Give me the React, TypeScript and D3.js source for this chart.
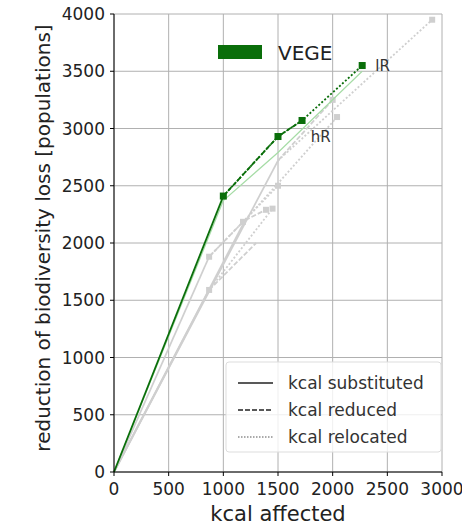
import React from 'react';
import * as d3 from 'd3';

// axis ticks
const xTicks = [0, 500, 1000, 1500, 2000, 2500, 3000];
const yTicks = [0, 500, 1000, 1500, 2000, 2500, 3000, 3500, 4000];

// VEGE diet (green)
const vegeSubstituted = [[0, 0], [1000, 2410]];
const vegeReduced = [[1000, 2410], [1500, 2930], [1720, 3070]];
const vegeRelocated = [[1000, 2410], [1500, 2930], [1720, 3070], [2270, 3550]];
const vegeLight = [[0, 0], [1000, 2370], [1500, 2790], [2270, 3500]];
const vegeMarkers = [[1000, 2410], [1500, 2930], [1720, 3070], [2270, 3550]];

// other diets (grey)
const greySubstituted = [
  [[0, 0], [1500, 2720]],
  [[0, 0], [1200, 2200]],
  [[0, 0], [870, 1880]],
  [[0, 0], [870, 1590]],
];
const greyReduced = [
  [[1500, 2720], [2000, 3250]],
  [[1200, 2200], [1390, 2290]],
  [[870, 1880], [1180, 2185]],
  [[870, 1590], [1300, 2000]],
];
const greyRelocated = [
  [[1500, 2720], [2910, 3950]],
  [[1200, 2200], [2040, 3100]],
  [[870, 1880], [1500, 2500]],
  [[870, 1590], [1450, 2300]],
];
const greyMarkers = [[2910, 3950], [2000, 3250], [2040, 3100], [1500, 2500], [1390, 2290], [1180, 2185], [870, 1880], [870, 1590], [1450, 2300]];

const labels = [
  { text: 'lR', x: 2390, y: 3500 },
  { text: 'hR', x: 1800, y: 2880 },
];

const legendItems = [
  { label: 'kcal substituted', dash: null },
  { label: 'kcal reduced', dash: '5,2' },
  { label: 'kcal relocated', dash: '1.5,1.5' },
];

const W = 462;
const H = 527;
const margin = { left: 114, right: 20, top: 14, bottom: 55 };

export default function App() {
  const x = d3.scaleLinear().domain([0, 3000]).range([margin.left, W - margin.right]);
  const y = d3.scaleLinear().domain([0, 4000]).range([H - margin.bottom, margin.top]);
  const line = d3.line<number[]>().x(d => x(d[0])).y(d => y(d[1]));
  const font = 'DejaVu Sans, sans-serif';
  const x0 = margin.left;
  const y0 = H - margin.bottom;
  const green = '#0a6e0a';
  const grey = '#cfcfcf';

  return (
    <svg width={W} height={H} style={{ position: 'absolute', left: 0, top: 0, background: '#fff' }} fontFamily={font}>
      {/* grid */}
      {xTicks.map(t => (
        <line key={'gx' + t} x1={x(t)} x2={x(t)} y1={y(0)} y2={y(4000)} stroke="#b0b0b0" strokeWidth={1} />
      ))}
      {yTicks.map(t => (
        <line key={'gy' + t} x1={x(0)} x2={x(3000)} y1={y(t)} y2={y(t)} stroke="#b0b0b0" strokeWidth={1} />
      ))}

      {/* grey diets */}
      {greySubstituted.map((d, i) => (
        <path key={'gs' + i} d={line(d) || ''} fill="none" stroke={grey} strokeWidth={1.8} />
      ))}
      {greyReduced.map((d, i) => (
        <path key={'gr' + i} d={line(d) || ''} fill="none" stroke={grey} strokeWidth={1.8} strokeDasharray="5,2" />
      ))}
      {greyRelocated.map((d, i) => (
        <path key={'gl' + i} d={line(d) || ''} fill="none" stroke={grey} strokeWidth={1.8} strokeDasharray="2,2" />
      ))}
      {greyMarkers.map((d, i) => (
        <rect key={'gm' + i} x={x(d[0]) - 3} y={y(d[1]) - 3} width={6} height={6} fill={grey} />
      ))}

      {/* VEGE */}
      <path d={line(vegeLight) || ''} fill="none" stroke="#a6dca6" strokeWidth={1.2} />
      <path d={line(vegeSubstituted) || ''} fill="none" stroke={green} strokeWidth={1.8} />
      <path d={line(vegeReduced) || ''} fill="none" stroke={green} strokeWidth={1.8} strokeDasharray="5,2" />
      <path d={line(vegeRelocated) || ''} fill="none" stroke={green} strokeWidth={1.8} strokeDasharray="2,2" />
      {vegeMarkers.map((d, i) => (
        <rect key={'vm' + i} x={x(d[0]) - 3.5} y={y(d[1]) - 3.5} width={7} height={7} fill={green} />
      ))}
      {labels.map(l => (
        <text key={l.text} x={x(l.x)} y={y(l.y)} fontSize={15} fill="#333">{l.text}</text>
      ))}

      {/* spines */}
      <line x1={x0} x2={x0} y1={y(4000)} y2={y0} stroke="#000" strokeWidth={1} />
      <line x1={x0} x2={x(3000)} y1={y0} y2={y0} stroke="#000" strokeWidth={1} />

      {/* ticks */}
      {xTicks.map(t => (
        <g key={'xt' + t}>
          <line x1={x(t)} x2={x(t)} y1={y0} y2={y0 + 4} stroke="#000" />
          <text x={x(t)} y={y0 + 23} fontSize={17} textAnchor="middle" fill="#222">{t}</text>
        </g>
      ))}
      {yTicks.map(t => (
        <g key={'yt' + t}>
          <line x1={x0 - 4} x2={x0} y1={y(t)} y2={y(t)} stroke="#000" />
          <text x={x0 - 9} y={y(t) + 6} fontSize={17} textAnchor="end" fill="#222">{t}</text>
        </g>
      ))}

      {/* axis labels */}
      <text x={278} y={521} fontSize={21} textAnchor="middle" fill="#222">kcal affected</text>
      <text transform={`translate(50, 238) rotate(-90)`} fontSize={20} textAnchor="middle" fill="#222">
        reduction of biodiversity loss [populations]
      </text>

      {/* VEGE legend */}
      <rect x={218} y={45} width={44} height={14} fill={green} />
      <text x={278} y={60} fontSize={20} fill="#222">VEGE</text>

      {/* style legend */}
      <rect x={226} y={362} width={215} height={90} fill="#fff" fillOpacity={0.8} stroke="#ddd" rx={3} />
      {legendItems.map((it, i) => (
        <g key={it.label}>
          <line x1={238} x2={273} y1={383 + i * 27} y2={383 + i * 27} stroke="#222" strokeWidth={1.5}
            strokeDasharray={it.dash || undefined} opacity={i === 2 ? 0.5 : 1} />
          <text x={288} y={389 + i * 27} fontSize={17} fill="#333">{it.label}</text>
        </g>
      ))}
    </svg>
  );
}
